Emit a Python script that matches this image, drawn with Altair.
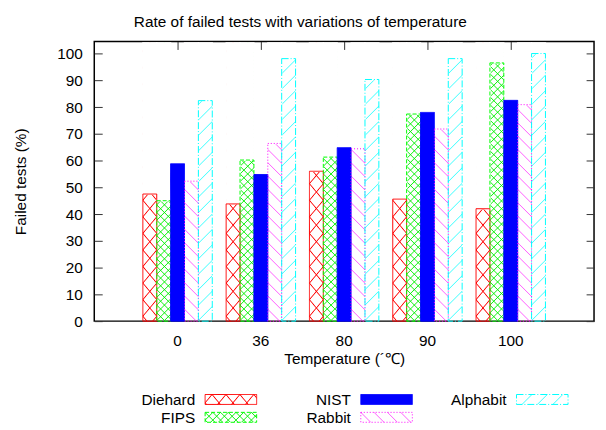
import math
import altair as alt
import pandas as pd

# ---------------- data ----------------
temps = ["0", "36", "80", "90", "100"]
series = ["Diehard", "FIPS", "NIST", "Rabbit", "Alphabit"]
diehard = [47.5, 43.8, 56.0, 45.6, 42.0]
fips = [45.0, 60.2, 61.3, 77.4, 96.5]
nist = [58.8, 54.8, 64.8, 78.0, 82.5]
rabbit = [52.3, 66.4, 64.4, 71.8, 80.9]
alphabit = [82.4, 98.1, 90.3, 98.1, 100.0]
y_ticks = list(range(0, 101, 10))
legend_col = [0, 0, 1, 1, 2]
legend_row = [0, 1, 0, 1, 0]

title_text = "Rate of failed tests with variations of temperature"
x_title = "Temperature (´℃)"
y_title = "Failed tests (%)"

# ---------------- styles ----------------
FONT = "Liberation Sans"
FS = 15.5
W, H = 504, 282
YMAX = 104.5
HATCH_TOP = 104.0
BAR_W = 14.0
colors = ["#ff0000", "#00ff00", "#0000ff", "#ff00ff", "#00ffff"]
fills = ["transparent", "transparent", "#0000ff", "transparent", "transparent"]
dashes = [[1, 0], [4, 2], [1, 0], [1, 2], [7, 2, 1, 2]]

rows = []
for vals, s in zip([diehard, fips, nist, rabbit, alphabit], series):
    for t, v in zip(temps, vals):
        rows.append({"temp": t, "series": s, "value": v})
df = pd.DataFrame(rows)
leg_df = pd.DataFrame({"series": series, "col": legend_col, "row": legend_row})


def hatch(rgb, normal, period, thick, w, h, phase=0.0, alpha=1.0):
    nx, ny = normal
    L = math.hypot(nx, ny)
    nx, ny = nx / L, ny / L
    corners = [(0, 0), (w, 0), (0, h), (w, h)]
    fs = [nx * x + ny * y for x, y in corners]
    fmin, fmax = min(fs), max(fs)
    c0 = corners[fs.index(fmin)]
    D = fmax - fmin
    k = D / (nx * nx * w * w + ny * ny * h * h)
    x1, y1 = c0[0] / w, c0[1] / h
    x2, y2 = x1 + k * nx * w, y1 + k * ny * h
    r, g, b = rgb
    clear = f"rgba({r},{g},{b},0)"
    solid = f"rgba({r},{g},{b},{alpha})"
    stops = [{"offset": 0, "color": clear}]
    m0 = math.floor((fmin - phase) / period) - 1
    m1 = math.ceil((fmax - phase) / period) + 1
    half = thick / 2
    for m in range(m0, m1 + 1):
        c = phase + m * period
        pts = ((c - half - fmin) / D, clear), ((c - fmin) / D, solid), ((c + half - fmin) / D, clear)
        for off, col in pts:
            if 0 < off < 1:
                stops.append({"offset": round(off, 6), "color": col})
    stops.append({"offset": 1, "color": clear})
    return {"gradient": "linear", "x1": x1, "y1": y1, "x2": x2, "y2": y2, "stops": stops}


def patterns(w, h):
    sl = 1.19
    ph = sl * 7 / math.hypot(sl, 1)
    return {
        "Diehard": [hatch((255, 0, 0), (sl, 1), 10.75, 1.7, w, h, ph),
                    hatch((255, 0, 0), (sl, -1), 10.75, 1.7, w, h, ph)],
        "FIPS": [hatch((0, 240, 0), (1, 1), 5.5, 1.5, w, h, 0, 0.9),
                 hatch((0, 240, 0), (1, -1), 5.5, 1.5, w, h, 0, 0.9)],
        "Rabbit": [hatch((255, 0, 255), (1, -1), 9.5, 1.5, w, h, 0, 0.6)],
        "Alphabit": [hatch((0, 255, 255), (1, 1), 11.0, 1.6, w, h, 0, 0.7)],
    }


# ---------------- main chart ----------------
x_scale = alt.Scale(domain=temps, paddingInner=1 / 6, paddingOuter=7 / 12)
y_scale = alt.Scale(domain=[0, YMAX], nice=False, zero=True)
x_axis = alt.Axis(orient="bottom", offset=-8, tickSize=8, domain=False, labelAngle=0,
                  labelFont=FONT, labelFontSize=FS, labelColor="black", labelPadding=13,
                  tickColor="#333", title=x_title, titleFont=FONT, titleFontSize=FS,
                  titleFontWeight="normal", titleColor="black", titlePadding=2)
y_axis = alt.Axis(orient="left", offset=-8, tickSize=8, domain=False, grid=False,
                  values=y_ticks, labelFont=FONT, labelFontSize=FS, labelColor="black",
                  labelPadding=12, tickColor="#333", title=y_title, titleFont=FONT,
                  titleFontSize=FS, titleFontWeight="normal", titleColor="black",
                  titlePadding=28)

X = alt.X("temp:N", sort=temps, scale=x_scale, axis=x_axis)
XO = alt.XOffset("series:N", sort=series, scale=alt.Scale(domain=series, paddingInner=0, paddingOuter=0))

base = alt.Chart(df).transform_calculate(ytop=str(HATCH_TOP))

layers = []
hatch_h = HATCH_TOP / YMAX * H
for s, grads in patterns(BAR_W, hatch_h).items():
    for g in grads:
        layers.append(
            base.transform_filter(alt.datum.series == s)
            .mark_bar(fill=g, strokeWidth=0)
            .encode(x=X, xOffset=XO, y=alt.Y("ytop:Q", scale=y_scale, axis=y_axis), y2=alt.Y2("y0:Q"))
            .transform_calculate(y0="0")
        )

cover = (
    base.transform_filter(alt.datum.series != "NIST")
    .mark_bar(fill="white", stroke="white", strokeWidth=1.4)
    .encode(x=X, xOffset=XO, y=alt.Y("value:Q", scale=y_scale, axis=y_axis), y2="ytop:Q")
)
layers.append(cover)

border = (
    alt.Chart(df)
    .mark_bar(strokeWidth=1)
    .encode(
        x=X, xOffset=XO,
        y=alt.Y("value:Q", scale=y_scale, axis=y_axis),
        stroke=alt.Stroke("series:N", scale=alt.Scale(domain=series, range=colors), legend=None),
        fill=alt.Fill("series:N", scale=alt.Scale(domain=series, range=fills), legend=None),
        strokeDash=alt.StrokeDash("series:N", scale=alt.Scale(domain=series, range=dashes), legend=None),
    )
)
layers.append(border)
bars = alt.layer(*layers)

tick_layer = (
    alt.Chart(df)
    .transform_filter(alt.datum.series == "NIST")
    .mark_bar(opacity=0)
    .encode(
        x=alt.X("temp:N", sort=temps, scale=x_scale,
                axis=alt.Axis(orient="top", offset=-8, tickSize=8, domain=False, labels=False,
                              title="", tickColor="#333")),
        y=alt.Y("value:Q", scale=y_scale,
                axis=alt.Axis(orient="right", offset=-8, tickSize=8, domain=False, labels=False,
                              values=y_ticks, grid=False, title="", tickColor="#333")),
    )
)

main = (
    alt.layer(bars, tick_layer)
    .resolve_scale(x="independent", y="independent")
    .properties(width=W, height=H, view=alt.ViewBackground(stroke="black", strokeWidth=1.5))
)

# ---------------- legend panel ----------------
LW, LH = W, 36
lx_scale = alt.Scale(domain=[0, 1, 2], paddingInner=0.669, paddingOuter=0.4395, align=0.81)
ly_scale = alt.Scale(domain=[0, 1], paddingInner=0.444, paddingOuter=0.222)
LX = alt.X("col:O", scale=lx_scale, axis=None)
LY = alt.Y("row:O", scale=ly_scale, axis=None)
lbase = alt.Chart(leg_df)
leg_layers = []
for s, grads in patterns(52, 10).items():
    for g in grads:
        leg_layers.append(
            lbase.transform_filter(alt.datum.series == s).mark_bar(fill=g, strokeWidth=0).encode(x=LX, y=LY)
        )
leg_layers.append(
    lbase.mark_bar(strokeWidth=1).encode(
        x=LX, y=LY,
        stroke=alt.Stroke("series:N", scale=alt.Scale(domain=series, range=colors), legend=None),
        fill=alt.Fill("series:N", scale=alt.Scale(domain=series, range=fills), legend=None),
        strokeDash=alt.StrokeDash("series:N", scale=alt.Scale(domain=series, range=dashes), legend=None),
    )
)
leg_layers.append(
    lbase.mark_text(align="right", dx=-10, dy=1, font=FONT, fontSize=FS, color="black").encode(
        x=alt.X("col:O", scale=lx_scale, axis=None, bandPosition=0), y=LY, text="series:N"
    )
)
legend = alt.layer(*leg_layers).properties(width=LW, height=LH)

chart = (
    alt.vconcat(main, legend, spacing=22)
    .properties(
        title=alt.TitleParams(title_text, font=FONT, fontSize=FS, fontWeight="normal",
                              color="black", anchor="middle", offset=10, dx=-4),
        padding={"left": 5, "top": 5, "right": 2, "bottom": 0},
        background="white",
    )
    .configure_view(stroke="transparent")
)

chart.save("out.html", embed_options={"renderer": "svg", "actions": False})
